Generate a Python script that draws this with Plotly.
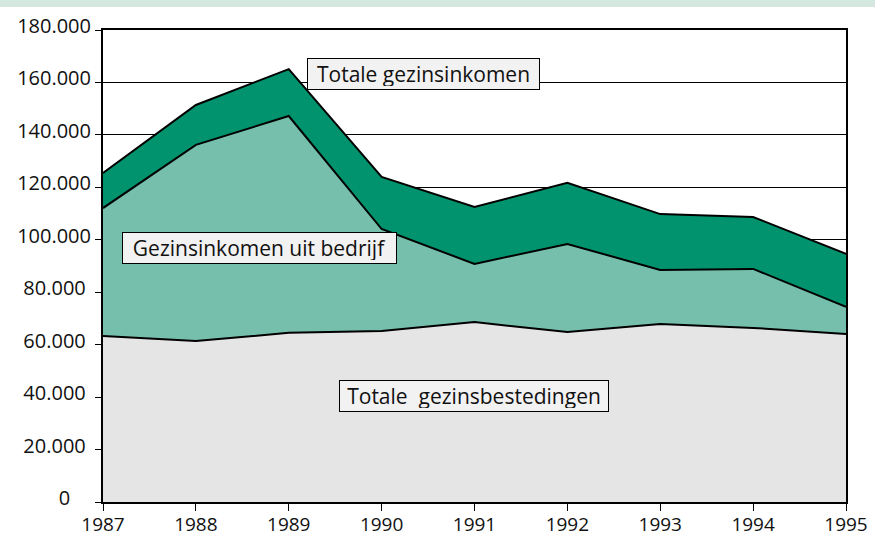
import plotly.graph_objects as go

years = [1987, 1988, 1989, 1990, 1991, 1992, 1993, 1994, 1995]
# values
bestedingen = [63300, 61400, 64500, 65200, 68600, 64800, 67900, 66400, 64100]
inkomen_bedrijf = [112100, 136200, 147200, 104100, 90800, 98400, 88500, 88900, 74400]
totaal_inkomen = [125500, 151400, 165100, 124000, 112500, 121700, 109800, 108700, 94600]

y_ticks = [0, 20000, 40000, 60000, 80000, 100000, 120000, 140000, 160000, 180000]
y_ticktext = ["0", "20.000", "40.000", "60.000", "80.000", "100.000", "120.000", "140.000", "160.000", "180.000"]

FONT = "Open Sans"
NB = "\u00a0"


def pad(label):
    # reference labels look roughly centred in the gutter
    if len(label) == 1:
        return label + NB * 4
    if len(label) == 6:
        return label + NB
    return label


fig = go.Figure()
fig.add_trace(go.Scatter(x=years, y=bestedingen, mode="lines", fill="tozeroy",
                         fillcolor="#e5e5e5", line=dict(color="black", width=2),
                         name="Totale gezinsbestedingen", showlegend=False))
fig.add_trace(go.Scatter(x=years, y=inkomen_bedrijf, mode="lines", fill="tonexty",
                         fillcolor="#75bfac", line=dict(color="black", width=2),
                         name="Gezinsinkomen uit bedrijf", showlegend=False))
fig.add_trace(go.Scatter(x=years, y=totaal_inkomen, mode="lines", fill="tonexty",
                         fillcolor="#00936e", line=dict(color="black", width=2),
                         name="Totale gezinsinkomen", showlegend=False))

ann_style = dict(showarrow=False, bgcolor="#f2f2f2", bordercolor="black", borderwidth=1,
                 borderpad=3, height=24, font=dict(family=FONT, size=21, color="#111111"))
fig.add_annotation(x=1990.45, y=163200, width=225, text="Totale gezinsinkomen", **ann_style)
fig.add_annotation(x=1988.68, y=96700, width=267, text="Gezinsinkomen uit bedrijf", **ann_style)
fig.add_annotation(x=1990.99, y=40400, width=262, text="Totale\u00a0 gezinsbestedingen", **ann_style)

fig.add_shape(type="rect", xref="paper", yref="paper",
              x0=-103/743, x1=1 + 29/743, y0=1 + 23/472, y1=1 + 30/472,
              fillcolor="#d4e8e0", line=dict(width=0), layer="below")

fig.update_xaxes(range=[1987, 1995], tickvals=years, ticks="outside", ticklen=7,
                 tickcolor="black", tickwidth=1, showline=True, linecolor="black",
                 linewidth=2, mirror=True, showgrid=False, zeroline=False,
                 automargin=False, ticklabelstandoff=-3,
                 tickfont=dict(family=FONT, size=19, color="#111111"))
fig.update_yaxes(range=[0, 180000], tickvals=y_ticks, ticktext=[pad(t) for t in y_ticktext],
                 ticks="outside", ticklen=6, tickcolor="black", tickwidth=1,
                 showline=True, linecolor="black", linewidth=2, mirror=True,
                 showgrid=True, gridcolor="black", gridwidth=1, zeroline=False,
                 ticklabelshift=-4, automargin=False,
                 tickfont=dict(family=FONT, size=20, color="#111111"))

fig.update_layout(width=875, height=537, margin=dict(l=103, r=29, t=30, b=35),
                  plot_bgcolor="white", paper_bgcolor="white")

fig.write_html("out.html", config={"displayModeBar": False},
               post_script="document.body.style.margin='0';")
